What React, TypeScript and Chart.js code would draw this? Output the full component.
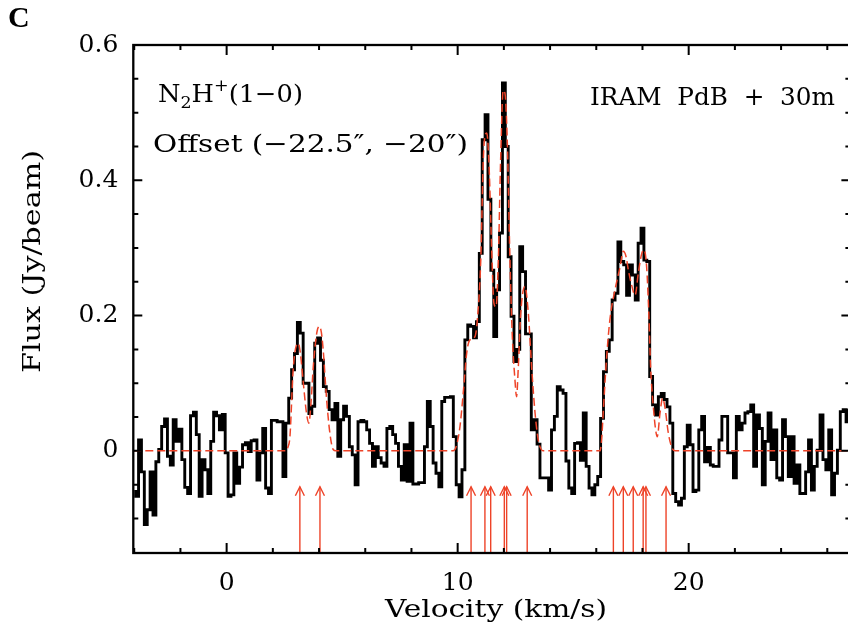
import React, { useEffect, useRef } from 'react';
import { Chart, registerables } from 'chart.js';

Chart.register(...registerables);

// ---- data ----
const velocityStart = -4.0; // km/s, centre of first channel
const channelWidth = 0.125; // km/s

const fluxValues = [
  -0.060, -0.067, 0.016, -0.031, -0.109, -0.087, -0.031, -0.095, -0.016, 0.002,
  0.036, 0.047, -0.008, -0.021, 0.046, 0.014, 0.032, -0.013, -0.054, -0.063,
  0.052, 0.057, 0.024, -0.067, -0.013, -0.028, -0.063, 0.014, 0.057, 0.052,
  0.031, 0.054, -0.003, -0.067, -0.065, -0.003, -0.048, -0.024, 0.009, 0.012,
  -0.001, 0.015, 0.016, -0.043, -0.003, 0.033, -0.055, -0.063, 0.045, 0.045,
  0.043, 0.043, -0.038, 0.041, 0.078, 0.120, 0.144, 0.190, 0.174, 0.100,
  0.100, 0.055, 0.066, 0.159, 0.167, 0.134, 0.095, 0.088, 0.061, 0.046,
  0.070, -0.008, 0.046, 0.066, 0.051, 0.006, -0.006, -0.050, 0.043, 0.045,
  0.043, 0.031, 0.011, -0.023, 0.006, -0.010, -0.018, -0.023, 0.033, 0.036,
  0.024, 0.011, -0.023, -0.043, 0.009, -0.045, 0.041, -0.049, -0.049, -0.047,
  -0.047, 0.006, 0.073, 0.036, -0.018, -0.033, -0.053, 0.073, 0.079, 0.079,
  0.080, 0.021, -0.050, -0.068, -0.028, 0.164, 0.186, 0.184, 0.167, 0.191,
  0.292, 0.460, 0.497, 0.372, 0.267, 0.169, 0.238, 0.322, 0.544, 0.450,
  0.287, 0.199, 0.132, 0.150, 0.302, 0.265, 0.173, 0.173, 0.031, 0.046,
  0.010, -0.040, -0.040, -0.040, -0.058, 0.031, 0.051, 0.095, 0.090, 0.085,
  -0.015, -0.055, -0.063, 0.011, 0.012, -0.014, 0.056, -0.023, -0.055, -0.065,
  -0.050, -0.038, 0.048, 0.117, 0.147, 0.164, 0.223, 0.233, 0.309, 0.280,
  0.275, 0.230, 0.275, 0.260, 0.223, 0.307, 0.329, 0.282, 0.280, 0.110,
  0.068, 0.053, 0.080, 0.085, 0.076, 0.065, 0.041, -0.063, -0.075, -0.080,
  -0.070, 0.006, 0.038, 0.009, -0.060, -0.058, 0.031, 0.051, -0.016, 0.005,
  -0.021, -0.023, -0.023, 0.016, 0.051, 0.051, -0.003, -0.003, -0.040, 0.051,
  0.031, 0.041, 0.056, 0.058, 0.068, -0.023, 0.053, 0.033, -0.050, 0.014,
  0.056, -0.013, 0.031, -0.040, -0.043, 0.046, 0.021, -0.038, 0.021, -0.048,
  -0.021, -0.063, -0.063, -0.031, 0.016, -0.058, -0.023, 0.001, 0.053, -0.013,
  -0.028, 0.031, -0.065, -0.033, 0.001, 0.058, 0.061, 0.043, 0.060,
];

const fitVelocity = [
  -4.04, 2.57, 2.65, 2.74, 2.88, 3.03, 3.10, 3.19, 3.32, 3.46, 3.56, 3.65, 3.75,
  3.90, 4.01, 4.10, 4.18, 4.33, 4.47, 4.61, 4.73,
  9.80, 9.95, 10.10, 10.24, 10.39, 10.53, 10.75, 10.89, 11.00, 11.11, 11.18, 11.26,
  11.36, 11.47, 11.57, 11.66, 11.76, 11.86, 11.97, 12.05, 12.15, 12.26, 12.36,
  12.48, 12.55, 12.62, 12.73, 12.91, 13.06, 13.20, 13.35, 13.49, 13.71,
  16.16, 16.23, 16.30, 16.45, 16.59, 16.81, 17.03, 17.17, 17.29, 17.39, 17.53,
  17.68, 17.82, 17.97, 18.07, 18.18, 18.28, 18.35, 18.47, 18.57, 18.64, 18.76,
  18.87, 18.97, 19.12, 19.26, 19.41, 27.0,
];
const fitFlux = [
  0, 0, 0.005, 0.021, 0.120, 0.157, 0.159, 0.145, 0.100, 0.055, 0.041, 0.070, 0.124,
  0.174, 0.184, 0.175, 0.149, 0.075, 0.026, 0.002, 0,
  0, 0.008, 0.036, 0.085, 0.144, 0.164, 0.169, 0.210, 0.282, 0.430, 0.465, 0.470,
  0.420, 0.300, 0.218, 0.213, 0.282, 0.430, 0.533, 0.528, 0.455, 0.287, 0.174,
  0.105, 0.080, 0.120, 0.203, 0.243, 0.203, 0.125, 0.056, 0.016, 0,
  0, 0.016, 0.056, 0.139, 0.194, 0.238, 0.272, 0.295, 0.287, 0.267, 0.245,
  0.230, 0.263, 0.292, 0.297, 0.272, 0.198, 0.125, 0.065, 0.031, 0.021, 0.056,
  0.078, 0.065, 0.026, 0.006, 0, 0,
];

const arrowVelocity = [3.17, 4.04, 10.58, 11.18, 11.43, 12.02, 12.12, 13.01, 16.74, 17.17, 17.60, 18.03, 18.15, 19.02];
const arrowTipFlux = -0.053;

const xTickValues = [-4, -2, 0, 2, 4, 6, 8, 10, 12, 14, 16, 18, 20, 22, 24, 26];
const xMajorTicks = [0, 10, 20];
const yTickValues = [-0.1, -0.05, 0, 0.05, 0.1, 0.15, 0.2, 0.25, 0.3, 0.35, 0.4, 0.45, 0.5, 0.55, 0.6];
const yMajorTicks = [0, 0.2, 0.4, 0.6];

const X_MIN = -4.04;
const X_MAX = 27.0;
const Y_MIN = -0.151;
const Y_MAX = 0.6;

const RED = '#ee4328';
const SERIF = '"DejaVu Serif", serif';

const isIn = (arr: number[], v: number) => arr.some((a) => Math.abs(a - v) < 1e-6);

function drawFitted(ctx: CanvasRenderingContext2D, text: string, x: number, y: number, width: number, font: string) {
  ctx.save();
  ctx.font = font;
  const w = ctx.measureText(text).width;
  ctx.translate(x, y);
  ctx.scale(width / w, 1);
  ctx.textAlign = 'left';
  ctx.textBaseline = 'alphabetic';
  ctx.fillText(text, 0, 0);
  ctx.restore();
}

type Part = { t: string; size: number; dy: number };
function drawParts(ctx: CanvasRenderingContext2D, parts: Part[], x: number, y: number, width: number) {
  ctx.save();
  let total = 0;
  parts.forEach((p) => {
    ctx.font = `${p.size}px ${SERIF}`;
    total += ctx.measureText(p.t).width;
  });
  ctx.translate(x, y);
  ctx.scale(width / total, 1);
  ctx.textBaseline = 'alphabetic';
  let cx = 0;
  parts.forEach((p) => {
    ctx.font = `${p.size}px ${SERIF}`;
    ctx.fillText(p.t, cx, p.dy);
    cx += ctx.measureText(p.t).width;
  });
  ctx.restore();
}

const decorPlugin = {
  id: 'decor',
  afterDatasetsDraw(chart: any) {
    const { ctx, chartArea: a, scales } = chart;
    const xs = scales.x;
    const ys = scales.y;
    ctx.save();
    // hyperfine component arrows
    ctx.strokeStyle = RED;
    ctx.lineWidth = 1.4;
    const tip = ys.getPixelForValue(arrowTipFlux);
    arrowVelocity.forEach((v) => {
      const px = xs.getPixelForValue(v);
      ctx.beginPath();
      ctx.moveTo(px, a.bottom);
      ctx.lineTo(px, tip);
      ctx.stroke();
      ctx.beginPath();
      ctx.moveTo(px - 4.5, tip + 9);
      ctx.lineTo(px, tip);
      ctx.lineTo(px + 4.5, tip + 9);
      ctx.stroke();
    });
    // frame
    ctx.strokeStyle = '#000';
    ctx.lineWidth = 2.3;
    ctx.strokeRect(a.left, a.top, a.right - a.left, a.bottom - a.top);
    // inward ticks
    ctx.lineWidth = 2;
    xTickValues.forEach((v) => {
      const px = xs.getPixelForValue(v);
      const len = isIn(xMajorTicks, v) ? 10 : 5;
      ctx.beginPath();
      ctx.moveTo(px, a.bottom);
      ctx.lineTo(px, a.bottom - len);
      ctx.moveTo(px, a.top);
      ctx.lineTo(px, a.top + len);
      ctx.stroke();
    });
    yTickValues.forEach((v) => {
      const py = ys.getPixelForValue(v);
      const len = isIn(yMajorTicks, v) ? 9 : 5;
      ctx.beginPath();
      ctx.moveTo(a.left, py);
      ctx.lineTo(a.left + len, py);
      ctx.moveTo(a.right, py);
      ctx.lineTo(a.right - len, py);
      ctx.stroke();
    });
    // texts
    ctx.fillStyle = '#000';
    ctx.font = 'bold 30px "Liberation Serif", serif';
    ctx.textBaseline = 'alphabetic';
    ctx.fillText('C', 8, 27);
    drawParts(
      ctx,
      [
        { t: 'N', size: 25, dy: 0 },
        { t: '2', size: 17, dy: 6 },
        { t: 'H', size: 25, dy: 0 },
        { t: '+', size: 17, dy: -11 },
        { t: '(1−0)', size: 25, dy: 0 },
      ],
      158,
      102,
      145
    );
    drawFitted(ctx, 'Offset (−22.5″, −20″)', 153, 152, 315, `25px ${SERIF}`);
    drawFitted(ctx, 'IRAM  PdB  +  30m', 590, 105, 245, `25px ${SERIF}`);
    drawFitted(ctx, 'Velocity (km/s)', 385, 617, 222, `25px ${SERIF}`);
    ctx.save();
    ctx.translate(40, 373);
    ctx.rotate(-Math.PI / 2);
    drawFitted(ctx, 'Flux (Jy/beam)', 0, 0, 223, `25px ${SERIF}`);
    ctx.restore();
    ctx.restore();
  },
};

export default function App() {
  const canvasRef = useRef<HTMLCanvasElement | null>(null);

  useEffect(() => {
    const canvas = canvasRef.current;
    if (!canvas) return;
    const spectrum = fluxValues.map((f, i) => ({ x: velocityStart + i * channelWidth, y: f }));
    const fit = fitVelocity.map((v, i) => ({ x: v, y: fitFlux[i] }));
    const chart = new Chart(canvas, {
      type: 'line',
      data: {
        datasets: [
          {
            label: 'fit',
            data: fit,
            borderColor: RED,
            borderWidth: 1.5,
            borderDash: [8, 4],
            cubicInterpolationMode: 'monotone',
            pointRadius: 0,
            fill: false,
            order: 0,
          },
          {
            label: 'spectrum',
            data: spectrum,
            borderColor: '#000',
            borderWidth: 2.9,
            stepped: 'middle',
            pointRadius: 0,
            fill: false,
            order: 1,
          },
        ],
      },
      options: {
        animation: false,
        responsive: false,
        devicePixelRatio: 1,
        layout: { padding: { left: 0, top: 45, right: 9.6, bottom: 0 } },
        plugins: { legend: { display: false }, tooltip: { enabled: false } },
        scales: {
          x: {
            type: 'linear',
            min: X_MIN,
            max: X_MAX,
            grid: { display: false, drawTicks: false },
            border: { display: false },
            afterBuildTicks: (s: any) => {
              s.ticks = xTickValues.map((v) => ({ value: v }));
            },
            afterFit: (s: any) => {
              s.height = 81;
            },
            ticks: {
              autoSkip: false,
              maxRotation: 0,
              padding: 15,
              color: '#000',
              font: { family: SERIF, size: 25 },
              callback: (v: any) => (isIn(xMajorTicks, Number(v)) ? String(v) : ''),
            },
          },
          y: {
            type: 'linear',
            min: Y_MIN,
            max: Y_MAX,
            grid: { display: false, drawTicks: false },
            border: { display: false },
            afterBuildTicks: (s: any) => {
              s.ticks = yTickValues.map((v) => ({ value: v }));
            },
            afterFit: (s: any) => {
              s.width = 133.3;
            },
            ticks: {
              autoSkip: false,
              padding: 15,
              color: '#000',
              font: { family: SERIF, size: 25 },
              callback: (v: any) => {
                const n = Number(v);
                if (!isIn(yMajorTicks, n)) return '';
                return n === 0 ? '0' : n.toFixed(1);
              },
            },
          },
        },
      },
      plugins: [decorPlugin],
    } as any);
    return () => chart.destroy();
  }, []);

  return (
    <div
      style={{
        position: 'fixed',
        left: 0,
        top: 0,
        width: 848,
        height: 634,
        overflow: 'hidden',
        background: '#fff',
      }}
    >
      <canvas ref={canvasRef} width={860} height={634} style={{ display: 'block' }} />
    </div>
  );
}
